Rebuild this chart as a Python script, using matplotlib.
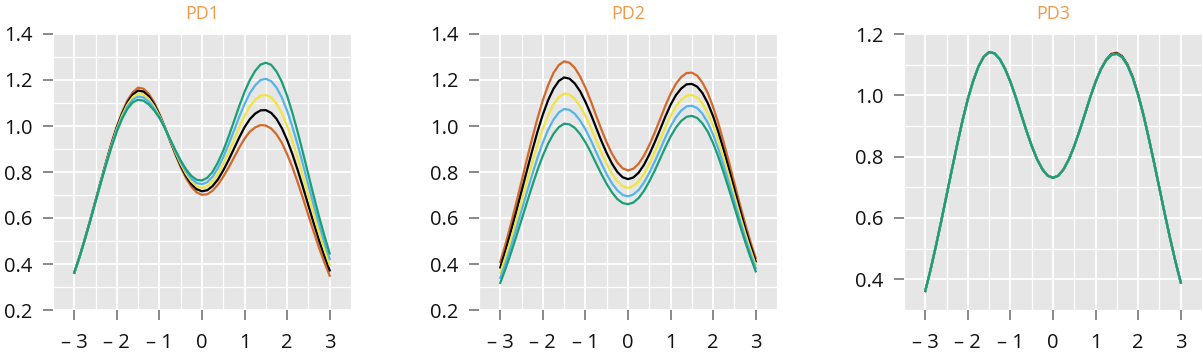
import matplotlib
matplotlib.use('Agg')
from matplotlib import pyplot as plt
from matplotlib.ticker import MultipleLocator, FormatStrFormatter

# x grid the curves were read on (step 0.125)
x = [-3.0, -2.875, -2.75, -2.625, -2.5, -2.375, -2.25, -2.125, -2.0, -1.875, -1.75, -1.625,
     -1.5, -1.375, -1.25, -1.125, -1.0, -0.875, -0.75, -0.625, -0.5, -0.375, -0.25, -0.125,
     0.0, 0.125, 0.25, 0.375, 0.5, 0.625, 0.75, 0.875, 1.0, 1.125, 1.25, 1.375,
     1.5, 1.625, 1.75, 1.875, 2.0, 2.125, 2.25, 2.375, 2.5, 2.625, 2.75, 2.875, 3.0]

# PD1 curves
pd1_orange = [0.362, 0.432, 0.510, 0.592, 0.677, 0.762, 0.846, 0.927, 0.999, 1.061, 1.112, 1.147,
              1.167, 1.162, 1.140, 1.103, 1.053, 0.996, 0.935, 0.876, 0.821, 0.773, 0.736, 0.711,
              0.701, 0.703, 0.719, 0.745, 0.780, 0.819, 0.862, 0.906, 0.945, 0.976, 0.994, 1.004,
              1.002, 0.989, 0.964, 0.927, 0.877, 0.820, 0.754, 0.684, 0.611, 0.539, 0.470, 0.406, 0.349]
pd1_black = [0.362, 0.432, 0.509, 0.591, 0.675, 0.760, 0.843, 0.922, 0.994, 1.054, 1.103, 1.137,
             1.154, 1.150, 1.129, 1.095, 1.048, 0.995, 0.937, 0.880, 0.828, 0.783, 0.748, 0.725,
             0.716, 0.721, 0.739, 0.768, 0.807, 0.852, 0.901, 0.950, 0.995, 1.030, 1.054, 1.068,
             1.069, 1.057, 1.031, 0.991, 0.939, 0.877, 0.807, 0.732, 0.654, 0.577, 0.503, 0.435, 0.372]
pd1_yellow = [0.362, 0.432, 0.509, 0.590, 0.674, 0.758, 0.840, 0.918, 0.988, 1.047, 1.094, 1.126,
              1.141, 1.137, 1.118, 1.086, 1.044, 0.994, 0.939, 0.885, 0.835, 0.792, 0.759, 0.738,
              0.731, 0.738, 0.759, 0.792, 0.835, 0.885, 0.939, 0.994, 1.044, 1.085, 1.114, 1.132,
              1.135, 1.124, 1.097, 1.056, 1.001, 0.935, 0.860, 0.780, 0.697, 0.615, 0.536, 0.463, 0.396]
pd1_blue = [0.362, 0.432, 0.509, 0.589, 0.673, 0.756, 0.837, 0.914, 0.982, 1.039, 1.085, 1.115,
            1.128, 1.124, 1.106, 1.077, 1.040, 0.993, 0.941, 0.890, 0.843, 0.802, 0.771, 0.752,
            0.747, 0.756, 0.780, 0.817, 0.864, 0.920, 0.979, 1.040, 1.096, 1.143, 1.177, 1.200,
            1.205, 1.195, 1.167, 1.124, 1.066, 0.996, 0.916, 0.831, 0.742, 0.655, 0.571, 0.493, 0.421]
pd1_teal = [0.362, 0.432, 0.508, 0.588, 0.671, 0.754, 0.833, 0.909, 0.976, 1.032, 1.075, 1.103,
            1.114, 1.110, 1.094, 1.068, 1.035, 0.992, 0.943, 0.895, 0.850, 0.812, 0.783, 0.766,
            0.763, 0.775, 0.801, 0.842, 0.893, 0.954, 1.020, 1.087, 1.148, 1.200, 1.240, 1.267,
            1.275, 1.266, 1.237, 1.192, 1.131, 1.056, 0.972, 0.881, 0.788, 0.695, 0.606, 0.523, 0.446]

# PD2 curves
pd2_orange = [0.409, 0.488, 0.574, 0.666, 0.760, 0.855, 0.947, 1.034, 1.112, 1.178, 1.231, 1.265,
              1.281, 1.275, 1.253, 1.215, 1.167, 1.109, 1.046, 0.985, 0.928, 0.879, 0.841, 0.816,
              0.807, 0.814, 0.836, 0.871, 0.917, 0.970, 1.028, 1.087, 1.140, 1.183, 1.213, 1.230,
              1.232, 1.219, 1.188, 1.143, 1.082, 1.010, 0.928, 0.841, 0.751, 0.662, 0.577, 0.498, 0.426]
pd2_black = [0.385, 0.460, 0.542, 0.628, 0.717, 0.806, 0.893, 0.976, 1.050, 1.113, 1.162, 1.196,
             1.211, 1.206, 1.185, 1.151, 1.105, 1.052, 0.993, 0.935, 0.882, 0.836, 0.800, 0.777,
             0.769, 0.776, 0.797, 0.831, 0.876, 0.928, 0.983, 1.040, 1.092, 1.134, 1.163, 1.181,
             1.183, 1.171, 1.143, 1.099, 1.042, 0.972, 0.894, 0.810, 0.724, 0.639, 0.556, 0.481, 0.411]
pd2_yellow = [0.362, 0.432, 0.509, 0.590, 0.674, 0.758, 0.840, 0.918, 0.988, 1.047, 1.094, 1.126,
              1.141, 1.137, 1.118, 1.086, 1.044, 0.994, 0.939, 0.885, 0.835, 0.792, 0.759, 0.738,
              0.731, 0.738, 0.759, 0.792, 0.835, 0.885, 0.939, 0.994, 1.044, 1.085, 1.114, 1.132,
              1.135, 1.124, 1.097, 1.056, 1.001, 0.935, 0.860, 0.780, 0.697, 0.615, 0.536, 0.463, 0.396]
pd2_blue = [0.340, 0.405, 0.477, 0.554, 0.633, 0.712, 0.789, 0.862, 0.928, 0.984, 1.028, 1.059,
            1.074, 1.070, 1.053, 1.024, 0.985, 0.939, 0.887, 0.837, 0.790, 0.750, 0.720, 0.700,
            0.694, 0.702, 0.722, 0.754, 0.796, 0.844, 0.896, 0.949, 0.998, 1.038, 1.067, 1.085,
            1.088, 1.078, 1.053, 1.014, 0.962, 0.899, 0.827, 0.751, 0.671, 0.592, 0.516, 0.446, 0.382]
pd2_teal = [0.318, 0.380, 0.448, 0.519, 0.593, 0.667, 0.740, 0.809, 0.871, 0.924, 0.966, 0.995,
            1.010, 1.007, 0.992, 0.965, 0.929, 0.886, 0.838, 0.791, 0.748, 0.711, 0.682, 0.665,
            0.660, 0.667, 0.687, 0.718, 0.759, 0.805, 0.856, 0.907, 0.954, 0.993, 1.022, 1.040,
            1.044, 1.035, 1.011, 0.975, 0.925, 0.865, 0.796, 0.723, 0.647, 0.571, 0.498, 0.430, 0.368]

# PD3 curves (the five lie almost on top of each other)
pd3_orange = [0.362, 0.432, 0.509, 0.590, 0.674, 0.758, 0.840, 0.918, 0.988, 1.047, 1.094, 1.126,
              1.141, 1.137, 1.118, 1.086, 1.044, 0.994, 0.939, 0.885, 0.835, 0.792, 0.759, 0.738,
              0.731, 0.738, 0.759, 0.792, 0.835, 0.885, 0.939, 0.994, 1.044, 1.086, 1.117, 1.136,
              1.139, 1.128, 1.101, 1.060, 1.004, 0.937, 0.861, 0.780, 0.697, 0.614, 0.534, 0.459, 0.390]
pd3_black = [0.362, 0.432, 0.509, 0.590, 0.674, 0.758, 0.840, 0.918, 0.988, 1.047, 1.094, 1.126,
             1.141, 1.137, 1.118, 1.086, 1.044, 0.994, 0.939, 0.885, 0.835, 0.792, 0.759, 0.738,
             0.731, 0.738, 0.759, 0.792, 0.835, 0.885, 0.939, 0.994, 1.044, 1.085, 1.116, 1.134,
             1.137, 1.126, 1.099, 1.058, 1.002, 0.936, 0.860, 0.780, 0.697, 0.614, 0.534, 0.459, 0.390]
pd3_yellow = [0.362, 0.432, 0.509, 0.590, 0.674, 0.758, 0.840, 0.918, 0.988, 1.047, 1.094, 1.126,
              1.141, 1.137, 1.118, 1.086, 1.044, 0.994, 0.939, 0.885, 0.835, 0.792, 0.759, 0.738,
              0.731, 0.738, 0.759, 0.792, 0.835, 0.885, 0.939, 0.994, 1.044, 1.085, 1.114, 1.132,
              1.135, 1.124, 1.097, 1.056, 1.001, 0.935, 0.860, 0.780, 0.697, 0.614, 0.534, 0.459, 0.390]
pd3_blue = [0.362, 0.432, 0.509, 0.590, 0.674, 0.758, 0.840, 0.918, 0.988, 1.047, 1.094, 1.126,
            1.141, 1.137, 1.118, 1.086, 1.044, 0.994, 0.939, 0.885, 0.835, 0.792, 0.759, 0.738,
            0.731, 0.738, 0.759, 0.792, 0.835, 0.885, 0.939, 0.994, 1.044, 1.085, 1.114, 1.132,
            1.135, 1.124, 1.097, 1.056, 1.001, 0.935, 0.860, 0.780, 0.697, 0.614, 0.534, 0.459, 0.390]
pd3_teal = [0.362, 0.432, 0.509, 0.590, 0.674, 0.758, 0.840, 0.918, 0.988, 1.047, 1.094, 1.126,
            1.141, 1.137, 1.118, 1.086, 1.044, 0.994, 0.939, 0.885, 0.835, 0.792, 0.759, 0.738,
            0.731, 0.738, 0.759, 0.792, 0.835, 0.885, 0.939, 0.994, 1.044, 1.085, 1.114, 1.132,
            1.135, 1.124, 1.097, 1.056, 1.001, 0.935, 0.860, 0.780, 0.697, 0.614, 0.534, 0.459, 0.390]

titles = ['PD1', 'PD2', 'PD3']
x_ticks = [-3, -2, -1, 0, 1, 2, 3]
x_tick_labels = ['\u2013 3', '\u2013 2', '\u2013 1', '0', '1', '2', '3']
colors = ['#d4682a', '#000000', '#f0e442', '#56b4e9', '#1b9e77']

panels = [
    [pd1_orange, pd1_black, pd1_yellow, pd1_blue, pd1_teal],
    [pd2_orange, pd2_black, pd2_yellow, pd2_blue, pd2_teal],
    [pd3_orange, pd3_black, pd3_yellow, pd3_blue, pd3_teal],
]
ylims = [(0.2, 1.4), (0.2, 1.4), (0.3, 1.2)]
lefts = [53, 479, 904]

plt.rcParams['font.family'] = ['Open Sans', 'DejaVu Sans']

fig = plt.figure(figsize=(12.03, 3.53), dpi=100)
W, H = 1203, 353

for i in range(3):
    ax = fig.add_axes([lefts[i] / W, (H - 310) / H, 298 / W, 276 / H])
    ax.set_facecolor('#e5e6e5')
    for c, ys in zip(colors, panels[i]):
        ax.plot(x, ys, color=c, lw=1.6, solid_joinstyle='round', zorder=3)
    ax.set_xlim(-3.5, 3.5)
    ax.set_ylim(*ylims[i])
    ax.set_xticks(x_ticks)
    ax.set_xticklabels(x_tick_labels)
    ax.yaxis.set_major_locator(MultipleLocator(0.2))
    ax.yaxis.set_minor_locator(MultipleLocator(0.1))
    ax.xaxis.set_minor_locator(MultipleLocator(0.5))
    ax.yaxis.set_major_formatter(FormatStrFormatter('%.1f'))
    ax.grid(which='major', color='white', lw=1.3, zorder=1)
    ax.grid(which='minor', color='white', lw=0.9, zorder=1)
    ax.set_axisbelow(True)
    for s in ax.spines.values():
        s.set_visible(False)
    ax.tick_params(which='major', length=7.5, width=1.3, color='#808080',
                   labelsize=14.5, labelcolor='#111111', pad=7)
    ax.tick_params(axis='x', which='major', pad=9)
    ax.tick_params(which='minor', length=0)
    ax.set_title(titles[i], color='#f39a4a', fontsize=13, pad=11)

plt.savefig('out.png', dpi=100)
